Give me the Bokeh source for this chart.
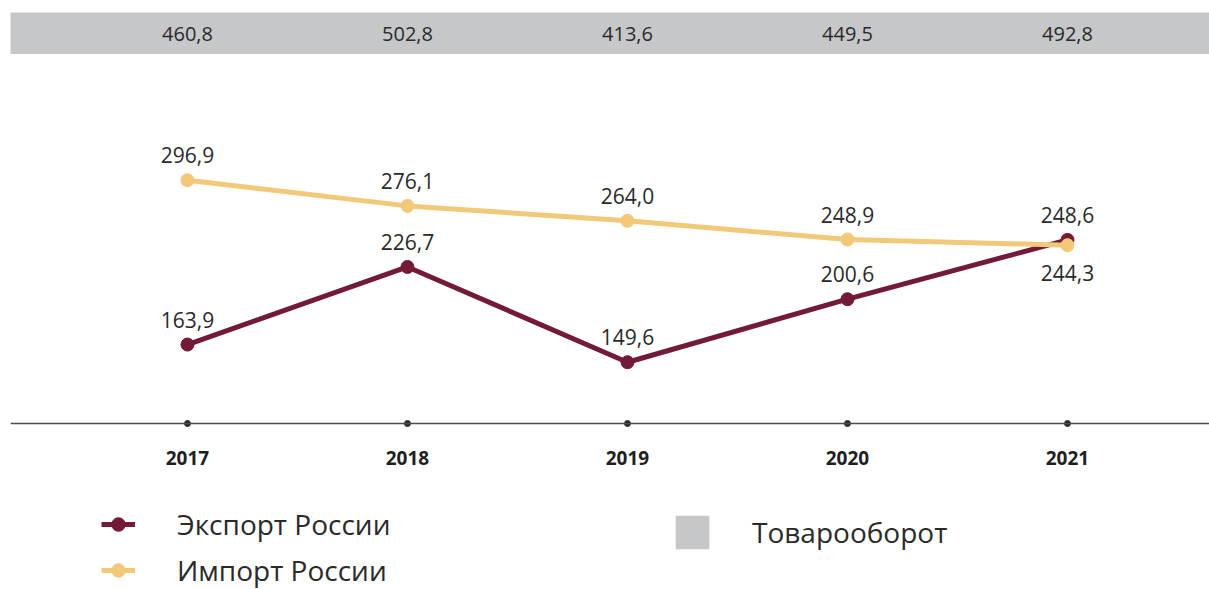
from bokeh.plotting import figure
from bokeh.models import Range1d, FixedTicker, Legend, LegendItem, ColumnDataSource
from bokeh.layouts import column
from bokeh.embed import file_html
from bokeh.resources import INLINE
from bokeh.core.properties import value

# ---- data ----
years = [2017, 2018, 2019, 2020, 2021]
export_vals = [163.9, 226.7, 149.6, 200.6, 248.6]
import_vals = [296.9, 276.1, 264.0, 248.9, 244.3]
turnover_vals = [460.8, 502.8, 413.6, 449.5, 492.8]
series_names = ["Экспорт России", "Импорт России", "Товарооборот"]

# ---- style ----
EXPORT_COLOR = "#731a36"
IMPORT_COLOR = "#f2c879"
BAND_COLOR = "#c6c7c9"
TEXT_COLOR = "#2a2a2a"
FONT = "Open Sans"
BASE = 100
W = 1209


def fmt(v):
    return f"{v:.1f}".replace(".", ",")


x_range = Range1d(2016.1955, 2021.6455)

# ---- band with totals ----
band = figure(width=W, height=42, x_range=x_range, y_range=Range1d(0, 1),
              output_backend="svg", toolbar_location=None,
              x_axis_location=None, y_axis_location=None, min_border=0,
              min_border_left=10, background_fill_color=BAND_COLOR,
              border_fill_color="white", outline_line_color=None,
              margin=(12, 0, 0, 0))
band.grid.visible = False
band_src = ColumnDataSource(dict(x=years, y=[0.5] * len(years),
                                 text=[fmt(v) for v in turnover_vals]))
band.text(x="x", y="y", text="text", source=band_src, text_align="center",
          text_baseline="middle", text_font=value(FONT), text_font_size="20px",
          text_color=TEXT_COLOR)

# ---- main chart ----
p = figure(width=W, height=535, x_range=x_range, y_range=Range1d(-34.3, 398.6),
           output_backend="svg", toolbar_location=None, y_axis_location=None,
           min_border=0, min_border_left=10, outline_line_color=None)
p.grid.visible = False
ax = p.xaxis[0]
ax.fixed_location = BASE
ax.ticker = FixedTicker(ticks=years)
ax.major_tick_line_color = None
ax.minor_tick_line_color = None
ax.axis_line_color = "#4d4d4d"
ax.axis_line_width = 1.5
ax.major_label_text_font = FONT
ax.major_label_text_font_size = "19px"
ax.major_label_text_font_style = "bold"
ax.major_label_text_color = "#1f1f1f"
ax.major_label_standoff = 21

p.scatter(years, [BASE] * len(years), size=6, color="#2b2b2b")

src = ColumnDataSource(dict(
    x=years, exp=export_vals, imp=import_vals,
    exp_label=[fmt(v) for v in export_vals],
    imp_label=[fmt(v) for v in import_vals],
    exp_off=[-25] * len(years),
    imp_off=[-25 if i >= e else 28 for i, e in zip(import_vals, export_vals)],
))

l_exp = p.line("x", "exp", source=src, line_width=5, color=EXPORT_COLOR)
c_exp = p.scatter("x", "exp", source=src, size=13, color=EXPORT_COLOR)
l_imp = p.line("x", "imp", source=src, line_width=5, color=IMPORT_COLOR)
c_imp = p.scatter("x", "imp", source=src, size=13, color=IMPORT_COLOR)

p.text(x="x", y="exp", text="exp_label", y_offset="exp_off", source=src,
       text_align="center", text_baseline="middle", text_font=value(FONT),
       text_font_size="21px", text_color=TEXT_COLOR)
p.text(x="x", y="imp", text="imp_label", y_offset="imp_off", source=src,
       text_align="center", text_baseline="middle", text_font=value(FONT),
       text_font_size="21px", text_color=TEXT_COLOR)

# turnover as (hidden) bars: only used for its legend swatch
turn_src = ColumnDataSource(dict(x=years, top=turnover_vals))
proxy = p.vbar(x="x", top="top", width=0.5, source=turn_src,
               fill_color=BAND_COLOR, line_color=None)
proxy.visible = False

common = dict(padding=0, margin=0, border_line_color=None,
              background_fill_alpha=0, label_text_font=FONT,
              label_text_font_size="28px", label_text_color=TEXT_COLOR,
              inactive_fill_alpha=0)

leg1 = Legend(items=[LegendItem(label=series_names[0], renderers=[l_exp, c_exp]),
                     LegendItem(label=series_names[1], renderers=[l_imp, c_imp])],
              location=(91, 0), orientation="vertical", glyph_width=34,
              glyph_height=34, label_height=34, spacing=8, label_standoff=42,
              **common)
leg2 = Legend(items=[LegendItem(label=series_names[2], renderers=[proxy])],
              location=(661, 36), glyph_width=42, glyph_height=42,
              label_height=42, label_standoff=39, **common)
p.add_layout(leg1)
p.add_layout(leg2)

layout = column(band, p, spacing=0)
open("out.html", "w").write(file_html(layout, INLINE))
